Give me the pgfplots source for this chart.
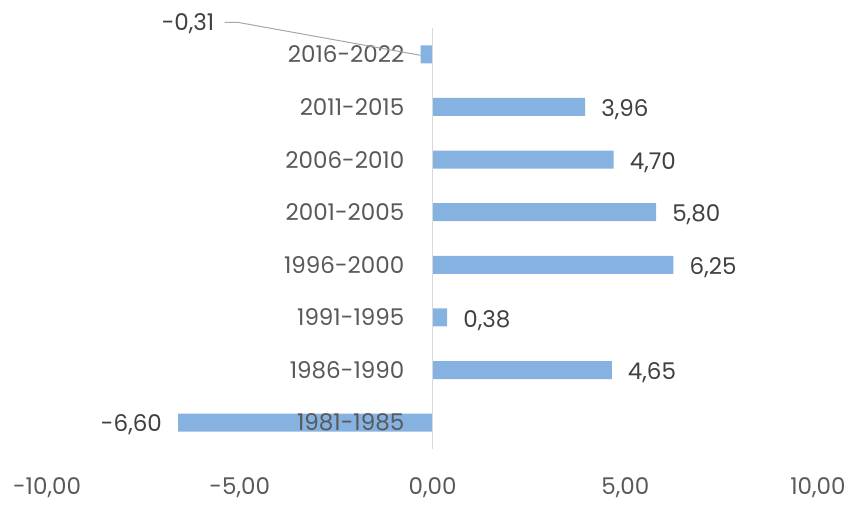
\documentclass[border=0pt]{standalone}
\usepackage{pgfplots}
\pgfplotsset{compat=1.18}
\usepackage{fontspec}
\setmainfont{Poppins}
\definecolor{barblue}{HTML}{85B2E1}
\definecolor{axgray}{HTML}{D9D9D9}
\definecolor{lblgray}{HTML}{595959}
\definecolor{datgray}{HTML}{404040}
\definecolor{leadgray}{HTML}{A6A6A6}
\begin{document}
\fontsize{23}{27}\selectfont
\begin{tikzpicture}
\useasboundingbox (0,0) rectangle (851pt,505pt);
\begin{axis}[at={(47pt,56pt)}, anchor=south west, scale only axis,
  width=771pt, height=421pt,
  xmin=-10, xmax=10, ymin=-0.5, ymax=7.5,
  axis y line=center, axis x line=bottom,
  x axis line style={draw=none},
  y axis line style={draw=axgray, line width=1.5pt, -},
  every inner y axis line/.append style={-},
  xtick={-10,-5,0,5,10},
  xticklabels={{-10,00},{-5,00},{0,00},{5,00},{10,00}},
  ytick={0,1,2,3,4,5,6,7},
  yticklabels={1981-1985,1986-1990,1991-1995,1996-2000,2001-2005,2006-2010,2011-2015,2016-2022},
  major tick length=0pt,
  tick label style={font=\fontsize{23}{27}\selectfont, text=lblgray},
  xticklabel style={anchor=center, yshift=-39pt},
  yticklabel style={anchor=east, inner sep=0pt, xshift=-28pt},
  axis on top,
  clip=false,
]
\addplot[xbar, bar width=18pt, fill=barblue, draw=none] coordinates {
  (-6.60,0) (4.65,1) (0.38,2) (6.25,3) (5.80,4) (4.70,5) (3.96,6) (-0.31,7)};
\addplot[draw=none, mark=none, point meta=x,
  nodes near coords={\pgfmathprintnumber[fixed, fixed zerofill, precision=2, use comma, assume math mode=true]{\pgfplotspointmeta}},
  nodes near coords style={anchor=west, xshift=16pt, yshift=-3pt, text=datgray, inner sep=0pt, font=\fontsize{23}{27}\selectfont}]
  coordinates {(4.65,1) (0.38,2) (6.25,3) (5.80,4) (4.70,5) (3.96,6)};
\addplot[draw=none, mark=none, point meta=x,
  nodes near coords={\pgfmathprintnumber[fixed, fixed zerofill, precision=2, use comma, assume math mode=true]{\pgfplotspointmeta}},
  nodes near coords style={anchor=east, xshift=-16pt, yshift=-2pt, text=datgray, inner sep=0pt, font=\fontsize{23}{27}\selectfont}]
  coordinates {(-6.60,0)};
\addplot[draw=none, mark=none, point meta=x,
  nodes near coords={\pgfmathprintnumber[fixed, fixed zerofill, precision=2, use comma, assume math mode=true]{\pgfplotspointmeta}},
  nodes near coords style={anchor=east, xshift=-206pt, yshift=31pt, text=datgray, inner sep=0pt, font=\fontsize{23}{27}\selectfont}]
  coordinates {(-0.31,7)};
\coordinate (barend) at (axis cs:-0.31,7);
\end{axis}
\draw[leadgray, line width=1pt] ([yshift=-1pt]barend) -- ++(-183pt,33pt) -- ++(-13pt,0);
\end{tikzpicture}
\end{document}
